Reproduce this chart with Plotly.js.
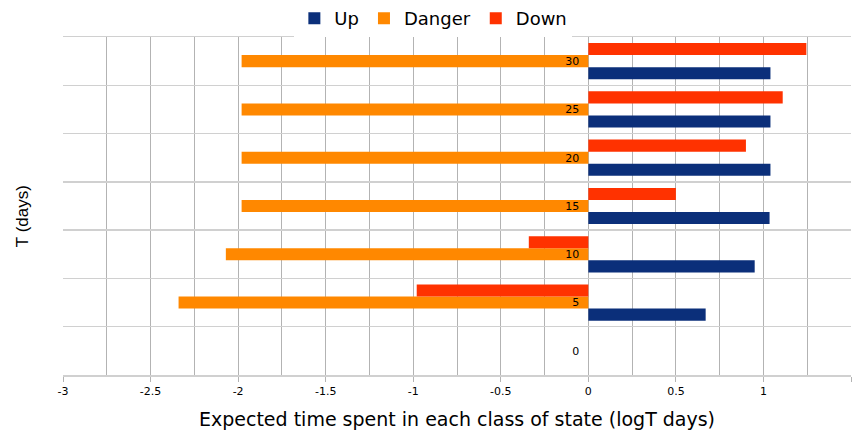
<!DOCTYPE html>
<html>
<head>
<meta charset="utf-8">
<script src="https://cdn.plot.ly/plotly-3.0.1.min.js"></script>
<style>html,body{margin:0;padding:0;background:#fff;}#chart{width:858px;height:434px;}</style>
</head>
<body>
<div id="chart"></div>
<script>
// Data
var categories = ["0", "5", "10", "15", "20", "25", "30"];
var upValues     = [0, 0.67, 0.95, 1.035, 1.04, 1.04, 1.04];
var dangerValues = [0, -2.34, -2.07, -1.98, -1.98, -1.98, -1.98];
var downValues   = [0, -0.98, -0.34, 0.50, 0.90, 1.11, 1.245];
var seriesNames  = ["Up", "Danger", "Down"];
var xTickValues  = [-3, -2.5, -2, -1.5, -1, -0.5, 0, 0.5, 1, 1.5];
var xTickLabels  = ["-3", "-2.5", "-2", "-1.5", "-1", "-0.5", "0", "0.5", "1", "1.5"];
var xTitle = "Expected time spent in each class of state (logT days)";
var yTitle = "T (days)";

var colors = ["#0b2f7a", "#ff8800", "#ff3200"];
var allValues = [upValues, dangerValues, downValues];

var traces = seriesNames.map(function (name, i) {
  return {
    type: "bar",
    orientation: "h",
    name: name,
    y: categories,
    x: allValues[i],
    marker: {color: colors[i]},
    hoverinfo: "x+y+name"
  };
});

var layout = {
  width: 858,
  height: 434,
  margin: {l: 63, r: 7, t: 37, b: 59},
  paper_bgcolor: "#ffffff",
  plot_bgcolor: "#ffffff",
  font: {family: "Liberation Sans, Arial, sans-serif", color: "#000"},
  barmode: "group",
  bargap: 0.25,
  bargroupgap: 0,
  showlegend: true,
  legend: {
    orientation: "h",
    x: 0.47, xanchor: "center",
    y: 1.0, yanchor: "top",
    yref: "container",
    font: {size: 18, color: "#000", family: "DejaVu Sans, sans-serif"},
    traceorder: "normal",
    itemwidth: 30,
    tracegroupgap: 0
  },
  xaxis: {
    range: [-3, 1.5],
    tickvals: xTickValues,
    ticktext: xTickLabels,
    ticks: "outside",
    ticklen: 5,
    tickcolor: "#b3b3b3",
    tickfont: {size: 11, color: "#000", family: "DejaVu Sans, sans-serif"},
    showgrid: true,
    gridcolor: "#b3b3b3",
    gridwidth: 1,
    minor: {dtick: 0.25, showgrid: true, gridcolor: "#b3b3b3", gridwidth: 1, ticks: ""},
    zeroline: false,
    showline: true,
    linecolor: "#d0d0d0",
    linewidth: 1.5,
    mirror: true,
    title: {text: xTitle, font: {size: 19, color: "#000", family: "DejaVu Sans, sans-serif"}, standoff: 16},
    fixedrange: true
  },
  yaxis: {
    type: "category",
    categoryorder: "array",
    categoryarray: categories,
    anchor: "free",
    position: 3 / 4.5,
    tickson: "boundaries",
    ticks: "",
    showline: false,
    showgrid: true,
    gridcolor: "#d0d0d0",
    gridwidth: 1.5,
    zeroline: false,
    tickfont: {size: 11, color: "#000", family: "DejaVu Sans, sans-serif"},
    ticklabelstandoff: 9,
    fixedrange: true
  },
  annotations: [{
    text: yTitle,
    xref: "paper", yref: "paper",
    x: -0.052, y: 0.47,
    xanchor: "center", yanchor: "middle",
    textangle: -90,
    showarrow: false,
    font: {size: 17, color: "#000"}
  }]
};

Plotly.newPlot("chart", traces, layout, {displayModeBar: false, staticPlot: true});
</script>
</body>
</html>
